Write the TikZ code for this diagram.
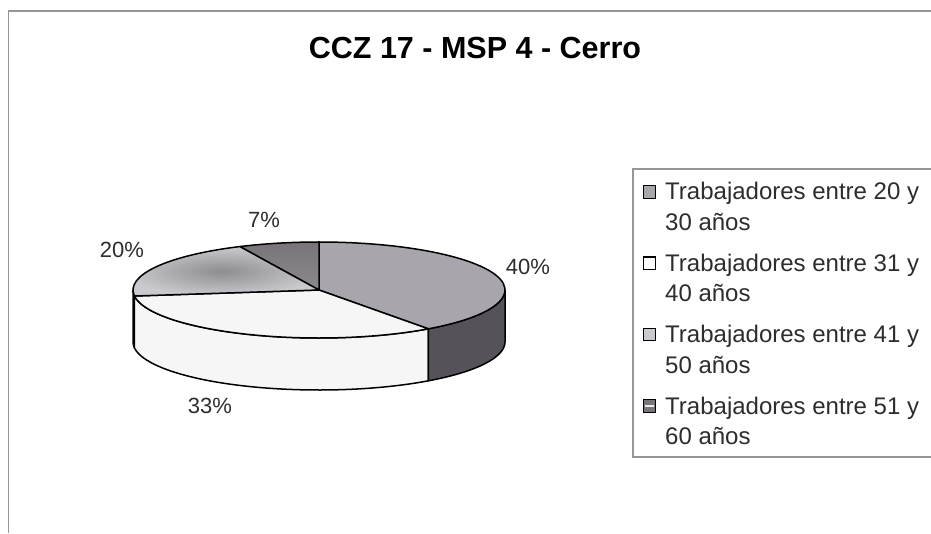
\documentclass[tikz,border=0pt]{standalone}
\usepackage{fontspec}
\setmainfont{Liberation Sans}
\usetikzlibrary{positioning}

\definecolor{sliceA}{RGB}{168,165,172}
\definecolor{sideA}{RGB}{86,82,90}
\definecolor{sliceB}{RGB}{246,246,246}
\definecolor{sliceC}{RGB}{202,202,206}
\definecolor{sliceD}{RGB}{120,116,122}
\definecolor{framegray}{RGB}{150,150,150}
\definecolor{labeltext}{RGB}{45,45,45}

\begin{document}
\begin{tikzpicture}[x=1pt,y=1pt,
  pct/.style={font=\fontsize{22}{26}\selectfont, text=labeltext, inner sep=0pt},
  legtext/.style={font=\fontsize{24}{30.5}\selectfont, text=labeltext, align=left, anchor=base west, inner sep=0pt},
  legmark/.style={draw=black, line width=1.3pt, minimum size=12.5pt, inner sep=0pt},
  rim/.style={draw=black, line width=1.5pt, line join=round}]
  \useasboundingbox (0,0) rectangle (931,533);
  \fill[white] (0,0) rectangle (931,533);
  % frame and title
  \draw[framegray, line width=1.2pt] (8.5,0) -- (8.5,522) -- (931,522);
  \node[font=\fontsize{30.5}{34}\selectfont\bfseries] (title) at (475,485) {CCZ 17 - MSP 4 - Cerro};

  \coordinate (c) at (319,243);
  % side walls of the pie
  \foreach \a/\b/\col in {-180/-172.8/sliceC, -172.8/-54/sliceB, -54/0/sideA}
    \path[rim, fill=\col] (c) ++(\a:186 and 48) arc[start angle=\a, end angle=\b, x radius=186, y radius=48]
      -- ++(0,-52) arc[start angle=\b, end angle=\a, x radius=186, y radius=48] -- cycle;
  % top of the pie
  \path[rim, fill=sliceA] (c) -- ++(-54:186 and 48) arc[start angle=-54, end angle=90, x radius=186, y radius=48] -- cycle;
  \path[rim, fill=sliceB] (c) -- ++(187.2:186 and 48) arc[start angle=187.2, end angle=306, x radius=186, y radius=48] -- cycle;
  \path[rim, shade, top color=sliceD, middle color=sliceD!25!white, bottom color=sliceD!85!white] (c) -- ++(90:186 and 48) arc[start angle=90, end angle=115.2, x radius=186, y radius=48] -- cycle;
  \path[rim, shade, inner color=sliceC!70!black, outer color=sliceC] (c) -- ++(115.2:186 and 48) arc[start angle=115.2, end angle=187.2, x radius=186, y radius=48] -- cycle;

  % percentages
  \node[pct] (p7)  at (264,313) {7\%};
  \node[pct] (p20) at (122,283) {20\%};
  \node[pct] (p40) at (528,266) {40\%};
  \node[pct] (p33) at (210,127) {33\%};

  % legend
  \draw[framegray, line width=1.2pt] (940,364) -- (633,364) -- (633,76) -- (940,76);
  \foreach \i/\lo/\hi/\y/\col in {1/20/30/333/sliceA, 2/31/40/261.7/white, 3/41/50/190.4/sliceC, 4/51/60/119/sliceD} {
    \node[legmark, fill=\col] (mark\i) at (649.5,\y+8) {};
    \node[legtext] (leg\i) at (665,\y-30.5) {Trabajadores entre \lo{} y\\\hi{} años};
  }
  \draw[white!85!gray, line width=1.5pt] ([xshift=2pt]mark4.west) -- ([xshift=-2pt]mark4.east);
\end{tikzpicture}
\end{document}
